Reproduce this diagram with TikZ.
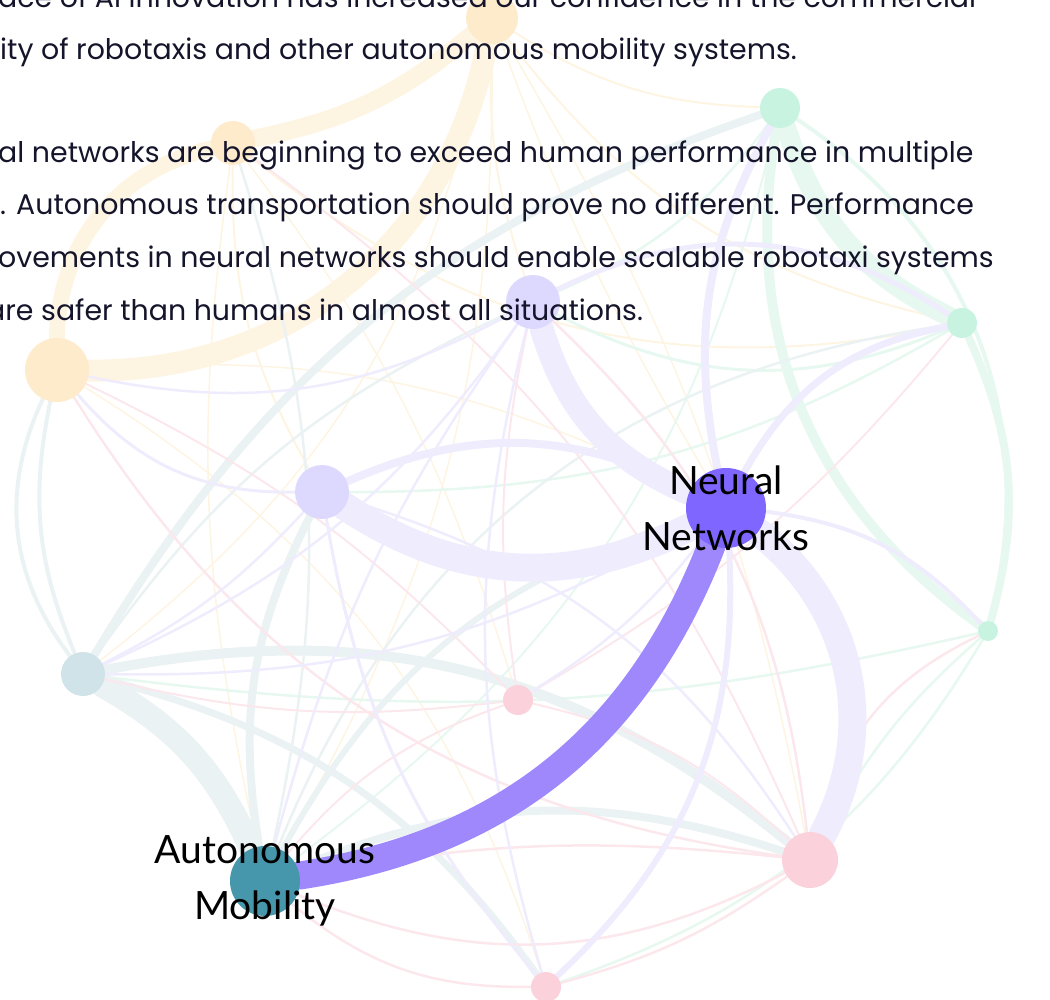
\documentclass[tikz,border=0pt]{standalone}
\usepackage{fontspec}
\setmainfont{Poppins}
\newfontfamily\tagfont{Lato}
\usetikzlibrary{backgrounds}

\definecolor{nodeOr}{HTML}{FEEBCB}
\definecolor{nodeGn}{HTML}{C8F3E1}
\definecolor{nodePu}{HTML}{DDD8FD}
\definecolor{nodeNn}{HTML}{7F66FF}
\definecolor{nodeTl}{HTML}{CFE3E8}
\definecolor{nodeAm}{HTML}{4697AB}
\definecolor{nodePk}{HTML}{FBD1DB}
\definecolor{linkOr}{HTML}{FEF4E2}
\definecolor{linkGn}{HTML}{E6F8F0}
\definecolor{linkPu}{HTML}{EFECFD}
\definecolor{linkTl}{HTML}{EAF2F3}
\definecolor{linkPk}{HTML}{FCE8EC}
\definecolor{linkMain}{HTML}{9E88FC}
\definecolor{inkNavy}{HTML}{14142B}

\begin{document}
\begin{tikzpicture}[x=1pt,y=1pt,
    dot/.style={circle,inner sep=0pt,minimum size=#1},
    link/.style={line width=#1,line cap=round},
    body/.style={anchor=base west,inner sep=0pt,text=inkNavy,
                 font=\fontsize{28.4}{34}\selectfont},
    tag/.style={align=center,inner sep=0pt,text=black,
                font=\tagfont\fontsize{39}{56}\selectfont},
]
    \useasboundingbox (0,0) rectangle (1050,-1000);

    % nodes
    \node[dot=52pt,fill=nodeOr] (orA) at (492,-18)  {};
    \node[dot=44pt,fill=nodeOr] (orB) at (233,-143) {};
    \node[dot=64pt,fill=nodeOr] (orC) at (57,-370)  {};
    \node[dot=40pt,fill=nodeGn] (gnA) at (780,-108) {};
    \node[dot=30pt,fill=nodeGn] (gnB) at (962,-323) {};
    \node[dot=20pt,fill=nodeGn] (gnC) at (988,-631) {};
    \node[dot=54pt,fill=nodePu] (puA) at (533,-302) {};
    \node[dot=54pt,fill=nodePu] (puB) at (322,-492) {};
    \node[dot=80pt,fill=nodeNn] (nn)  at (726,-508) {};
    \node[dot=44pt,fill=nodeTl] (tlA) at (83,-674)  {};
    \node[dot=70pt,fill=nodeAm] (am)  at (265,-881) {};
    \node[dot=30pt,fill=nodePk] (pkA) at (518,-700) {};
    \node[dot=56pt,fill=nodePk] (pkB) at (810,-860) {};
    \node[dot=30pt,fill=nodePk] (pkC) at (546,-987) {};

    % links
    \begin{scope}[on background layer]
    \foreach \p/\q/\w/\b in {orC/orA/22/-40, orC/orB/16/38, orB/orA/18/-14,
        orA/puA/2/-10, orA/gnA/2/-15, orA/gnB/2/-20, orA/nn/1.5/-5,
        orA/pkB/1.5/10, orA/am/1.5/15, orA/tlA/1.5/20, orB/puB/2/-15,
        orB/am/1.5/-10, orB/gnB/2/-25, orB/pkA/1.5/10, orC/nn/1.5/15, orC/pkC/1.5/20}
      \draw[link=\w pt,linkOr] (\p) to[bend left=\b] (\q);
    \foreach \p/\q/\w/\b in {gnA/gnB/20/-23, gnA/gnC/10/-32, gnB/gnC/8/20,
        gnA/gnC/4/35, gnB/puA/3/25, gnB/puB/2.5/15, gnC/tlA/2.5/10,
        gnC/pkB/2.5/-10, gnC/pkC/2.5/20, gnA/puA/2.5/15, gnA/am/2/20}
      \draw[link=\w pt,linkGn] (\p) to[bend left=\b] (\q);
    \foreach \p/\q/\w/\b in {tlA/orC/4/31, orC/tlA/4/-17, tlA/gnA/8/20,
        tlA/pkB/10/25, tlA/pkC/7/20, am/puB/8/18, am/pkB/8/20, am/nn/6/22,
        tlA/puA/2.5/15, am/gnB/2.5/30, am/orB/2.5/-15, tlA/am/24/18}
      \draw[link=\w pt,linkTl] (\p) to[bend left=\b] (\q);
    \foreach \p/\q/\w/\b in {pkB/am/2.5/25, pkB/am/2.5/-8, pkB/pkC/2.5/10,
        pkB/puA/2.5/-20, pkB/orB/2/-15, pkB/gnC/2.5/25, pkB/orC/2.5/25,
        pkA/orC/2/-10, pkA/tlA/2/10, pkA/am/2/-15, pkA/puA/2/10,
        pkA/gnB/2/-10, pkA/pkB/2/15, pkC/am/2.5/20, pkC/puB/2/15}
      \draw[link=\w pt,linkPk] (\p) to[bend left=\b] (\q);
    \foreach \p/\q/\w/\b in {puA/orC/2.5/20, puA/tlA/2.5/15, puA/am/2.5/-10,
        puA/pkC/2.5/-15, puB/orC/3/25, puB/tlA/2.5/10, puB/pkC/3/-15,
        puB/pkB/2.5/20, nn/tlA/2.5/15, nn/pkA/2.5/10, puA/gnB/5/30,
        nn/gnA/8/20, nn/gnB/7/25, nn/gnC/4/20, nn/pkC/6/25,
        puB/nn/8/25, puA/nn/24/-25, puB/nn/28/-30, nn/pkB/28/40}
      \draw[link=\w pt,linkPu] (\p) to[bend left=\b] (\q);
    \draw[link=28pt,linkMain] (am) to[bend right=30] (nn);
    \end{scope}

    % text
    \node[body] (line1) at (-2,-8)   {ace of AI innovation has increased our confidence in the commercial};
    \node[body] (line2) at (0,-60)   {ity of robotaxis and other autonomous mobility systems.};
    \node[body] (line3) at (-2,-163) {al networks are beginning to exceed human performance in multiple};
    \node[body] (line4) at (0,-215)  {. Autonomous transportation should prove no different. Performance};
    \node[body] (line5) at (-2,-268) {ovements in neural networks should enable scalable robotaxi systems};
    \node[body] (line6) at (-14,-321) {are safer than humans in almost all situations.};

    \node[tag] (nnTag) at (nn) {Neural\\Networks};
    \node[tag] (amTag) at (am) {Autonomous\\Mobility};
\end{tikzpicture}
\end{document}
